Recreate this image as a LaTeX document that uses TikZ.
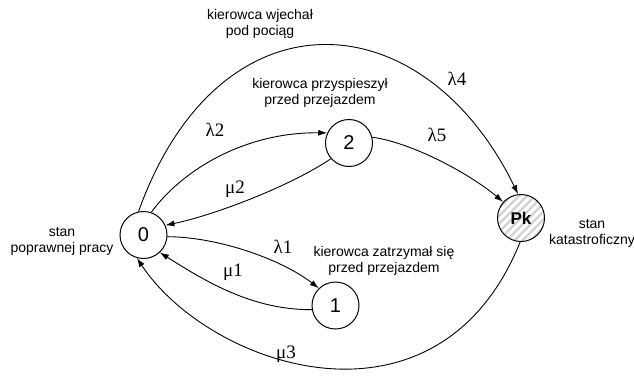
\documentclass[tikz,border=0pt]{standalone}
\usepackage{fontspec}
\setmainfont{Liberation Sans}
\newfontfamily\ratefont{Liberation Serif}
\usetikzlibrary{arrows.meta}
\begin{document}
\begin{tikzpicture}[x=1pt,y=1pt,
  state/.style={circle,draw,line width=1pt,minimum size=47pt,inner sep=0pt,font=\fontsize{20}{20}\selectfont},
  edge/.style={line width=0.9pt,-{Latex[length=9pt,width=6pt]}},
  rate/.style={font=\ratefont\fontsize{19}{19}\selectfont,inner sep=0pt},
  desc/.style={align=center,font=\fontsize{14}{16}\selectfont,inner sep=0pt}]
\useasboundingbox (0,0) rectangle (634,-378);

% states
\node[state] (n0) at (143.5,-235) {0};
\node[state] (n2) at (349,-143) {2};
\node[state] (n1) at (335.5,-305.5) {1};
\node[state,font=\bfseries\fontsize{17}{17}\selectfont,
  path picture={\foreach \i in {-64,-56,...,64}
    \draw[gray!35,line width=2.2pt] ([shift={(\i,0)}]path picture bounding box.center) ++(-32,-32) -- ++(64,64);}]
  (nPk) at (521,-218) {Pk};

% connectors
\draw[edge] (n0.102) .. controls (219,13) and (423,1) .. (nPk.97);
\draw[edge] (n0.71) .. controls (182,-170) and (245,-132) .. (n2.155);
\draw[edge] (n2.221) .. controls (290.5,-186) and (215,-215) .. (n0.24);
\draw[edge] (n0.-4) .. controls (218,-237) and (281,-259) .. (n1.134);
\draw[edge] (n1.190) .. controls (252,-310) and (205,-281) .. (n0.-47);
\draw[edge] (n2.14) .. controls (413,-143) and (470,-174) .. (nPk.138);
\draw[edge] (nPk.-92) .. controls (438,-445) and (210,-368) .. (n0.-106);

% rate labels
\node[rate] (l4) at (457,-79) {λ4};
\node[rate] (l2) at (215,-130) {λ2};
\node[rate] (m2) at (235,-189) {μ2};
\node[rate] (l5) at (437,-135) {λ5};
\node[rate] (l1) at (283,-247) {λ1};
\node[rate] (m1) at (233,-272) {μ1};
\node[rate] (m3) at (286,-354) {μ3};

% descriptions
\node[desc] (d4) at (260,-24) {kierowca wjechał\\pod pociąg};
\node[desc] (d2) at (320,-93) {kierowca przyspieszył\\przed przejazdem};
\node[desc] (d1) at (384,-261) {kierowca zatrzymał się\\przed przejazdem};
\node[desc] (d0) at (62,-241) {stan\\poprawnej pracy};
\node[desc] (dk) at (592,-233) {stan\\katastroficzny};
\end{tikzpicture}
\end{document}
